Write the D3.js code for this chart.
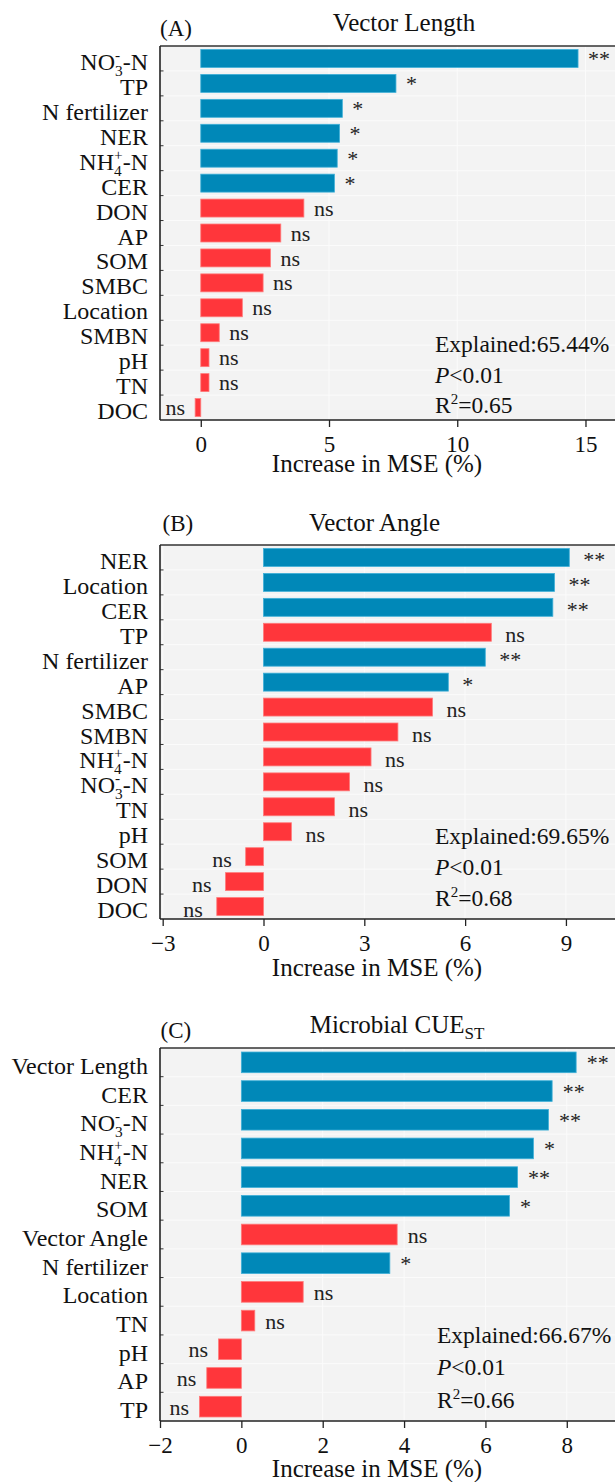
<!DOCTYPE html>
<html>
<head>
<meta charset="utf-8">
<script src="https://cdn.jsdelivr.net/npm/d3@7"></script>
<style>
  html, body { margin: 0; padding: 0; background: #fff; }
  svg { display: block; font-family: "Liberation Serif", "Times New Roman", serif; }
</style>
</head>
<body>
<svg id="fig" width="615" height="1482"></svg>
<script>
// ---- Panel A: Vector Length ----
const catsA  = ["NO3-N", "TP", "N fertilizer", "NER", "NH4-N", "CER", "DON", "AP", "SOM", "SMBC", "Location", "SMBN", "pH", "TN", "DOC"];
const valsA  = [14.71, 7.61, 5.52, 5.41, 5.32, 5.21, 4.02, 3.12, 2.72, 2.43, 1.62, 0.72, 0.32, 0.32, -0.22];
const sigA   = ["**", "*", "*", "*", "*", "*", "ns", "ns", "ns", "ns", "ns", "ns", "ns", "ns", "ns"];
const ticksA = [0, 5, 10, 15];
const statsA = ["65.44%", "0.01", "0.65"];

// ---- Panel B: Vector Angle ----
const catsB  = ["NER", "Location", "CER", "TP", "N fertilizer", "AP", "SMBC", "SMBN", "NH4-N", "NO3-N", "TN", "pH", "SOM", "DON", "DOC"];
const valsB  = [9.10, 8.66, 8.61, 6.78, 6.60, 5.50, 5.03, 4.00, 3.20, 2.56, 2.11, 0.83, -0.53, -1.13, -1.39];
const sigB   = ["**", "**", "**", "ns", "**", "*", "ns", "ns", "ns", "ns", "ns", "ns", "ns", "ns", "ns"];
const ticksB = [-3, 0, 3, 6, 9];
const statsB = ["69.65%", "0.01", "0.68"];

// ---- Panel C: Microbial CUE_ST ----
const catsC  = ["Vector Length", "CER", "NO3-N", "NH4-N", "NER", "SOM", "Vector Angle", "N fertilizer", "Location", "TN", "pH", "AP", "TP"];
const valsC  = [8.23, 7.64, 7.55, 7.18, 6.79, 6.59, 3.83, 3.65, 1.52, 0.33, -0.56, -0.85, -1.03];
const sigC   = ["**", "**", "**", "*", "**", "*", "ns", "*", "ns", "ns", "ns", "ns", "ns"];
const ticksC = [-2, 0, 2, 4, 6, 8];
const statsC = ["66.67%", "0.01", "0.66"];

const BLUE = "#0088b8", BLUE_EDGE = "#3fb0d8";
const RED = "#ff363b", RED_EDGE = "#ff7a7a";

const svg = d3.select("#fig");

// Layout of each panel (pixel geometry)
const panels = [
  { cats: catsA, vals: valsA, sig: sigA, ticks: ticksA, stats: statsA,
    domain: [-1.59, 16.19], top: 46, bottom: 420, letter: "(A)",
    title: ["Vector Length", null], titleX: 404, titleY: 31, letterX: 160, letterY: 36,
    sigGap: 10, sigDy: 7.6, statY: [352, 382.5, 413], statX: 435, axisTitleY: 472 },
  { cats: catsB, vals: valsB, sig: sigB, ticks: ticksB, stats: statsB,
    domain: [-3.08, 10.49], top: 545, bottom: 919, letter: "(B)",
    title: ["Vector Angle", null], titleX: 374.5, titleY: 531, letterX: 162.5, letterY: 530.5,
    sigGap: 14, sigDy: 10, statY: [844, 875, 906], statX: 435, axisTitleY: 976 },
  { cats: catsC, vals: valsC, sig: sigC, ticks: ticksC, stats: statsC,
    domain: [-2, 9.21], top: 1048, bottom: 1421, letter: "(C)",
    title: ["Microbial CUE", "ST"], titleX: 397, titleY: 1033, letterX: 160.5, letterY: 1038,
    sigGap: 10.5, sigDy: 8, statY: [1343, 1375, 1408], statX: 437, axisTitleY: 1477 }
];

const LEFT = 160, RIGHT = 616, LABEL_X = 148;

// Writes a category name with chemical sub/superscripts into a <text>
function writeLabel(textSel, name, size) {
  const small = size * 0.64;
  const m = name.match(/^(NO|NH)(\d)-N$/);
  if (!m) { textSel.text(name); return; }
  const ion = m[1] === "NO" ? "-" : "+";
  const subW = small * 0.5;              // digit advance
  const supW = small * (ion === "+" ? 0.564 : 0.333);
  textSel.append("tspan").text(m[1]);
  textSel.append("tspan").attr("font-size", small).attr("dy", 6).text(m[2]);
  textSel.append("tspan").attr("font-size", small).attr("dx", -subW).attr("dy", -16).text(ion);
  textSel.append("tspan").attr("dy", 10).attr("dx", Math.max(0, subW - supW)).text("-N");
}

panels.forEach(p => {
  const g = svg.append("g");
  const x = d3.scaleLinear().domain(p.domain).range([LEFT, RIGHT]);
  const y = d3.scaleBand().domain(p.cats).range([p.top, p.bottom]).paddingInner(0.28).paddingOuter(0.14);
  const step = y.step();

  // plot background
  g.append("rect").attr("x", LEFT).attr("y", p.top)
    .attr("width", RIGHT - LEFT).attr("height", p.bottom - p.top).attr("fill", "#f3f3f3");

  // faint white grid: vertical at ticks, horizontal at row boundaries
  g.append("g").selectAll("line.v").data(p.ticks.filter(t => t !== 0)).join("line")
    .attr("x1", d => x(d)).attr("x2", d => x(d))
    .attr("y1", p.top).attr("y2", p.bottom)
    .attr("stroke", "#fbfbfb").attr("stroke-width", 1);
  const bounds = d3.range(1, p.cats.length).map(i => p.top + i * step);
  g.append("g").selectAll("line.h").data(bounds).join("line")
    .attr("x1", LEFT).attr("x2", RIGHT).attr("y1", d => d).attr("y2", d => d)
    .attr("stroke", "#fbfbfb").attr("stroke-width", 1);

  // bars
  const data = p.cats.map((c, i) => ({ c, v: p.vals[i], s: p.sig[i] }));
  g.append("g").selectAll("rect").data(data).join("rect")
    .attr("x", d => x(Math.min(0, d.v)))
    .attr("width", d => Math.abs(x(d.v) - x(0)))
    .attr("y", d => y(d.c))
    .attr("height", y.bandwidth())
    .attr("fill", d => d.s === "ns" ? RED : BLUE)
    .attr("stroke", d => d.s === "ns" ? RED_EDGE : BLUE_EDGE)
    .attr("stroke-width", 0.8);

  // significance labels
  g.append("g").selectAll("text").data(data).join("text")
    .attr("x", d => d.v >= 0 ? x(d.v) + p.sigGap : x(d.v) - p.sigGap)
    .attr("y", d => y(d.c) + y.bandwidth() / 2 + p.sigDy)
    .attr("text-anchor", d => d.v >= 0 ? "start" : "end")
    .attr("font-size", 22).attr("fill", "#222")
    .text(d => d.s);

  // x axis
  const xAxis = d3.axisBottom(x).tickValues(p.ticks).tickSize(7).tickPadding(8)
    .tickFormat(d3.format("d"));
  const ax = g.append("g").attr("transform", `translate(0,${p.bottom})`).call(xAxis);
  ax.select(".domain").remove();
  ax.selectAll(".tick line").attr("stroke", "#222").attr("stroke-width", 1.3);
  ax.selectAll(".tick text").attr("font-size", 23).attr("fill", "#111")
    .attr("font-family", "Liberation Serif").attr("dy", null).attr("y", 31.5);

  // y axis ticks (inward, at row boundaries) and category names
  g.append("g").selectAll("line").data(bounds).join("line")
    .attr("x1", LEFT).attr("x2", LEFT + 3.5).attr("y1", d => d).attr("y2", d => d)
    .attr("stroke", "#333").attr("stroke-width", 1);

  g.append("g").selectAll("text").data(p.cats).join("text")
    .attr("y", d => y(d) + y.bandwidth() / 2 + 11.5)
    .attr("font-size", 24).attr("fill", "#111")
    .each(function (d) {
      const t = d3.select(this);
      writeLabel(t, d, 24);
      const w = this.getBBox().width;
      t.attr("x", LABEL_X - w);
    });

  // frame: top, left, bottom
  g.append("line").attr("x1", LEFT).attr("x2", RIGHT).attr("y1", p.top).attr("y2", p.top)
    .attr("stroke", "#333").attr("stroke-width", 1.6);
  g.append("line").attr("x1", LEFT).attr("x2", LEFT).attr("y1", p.top).attr("y2", p.bottom)
    .attr("stroke", "#222").attr("stroke-width", 1.6);
  g.append("line").attr("x1", LEFT).attr("x2", RIGHT).attr("y1", p.bottom).attr("y2", p.bottom)
    .attr("stroke", "#222").attr("stroke-width", 1.6);

  // axis title
  g.append("text").attr("x", 377).attr("y", p.axisTitleY).attr("text-anchor", "middle")
    .attr("font-size", 25).attr("fill", "#111").text("Increase in MSE (%)");

  // panel title and letter
  const tt = g.append("text").attr("x", p.titleX).attr("y", p.titleY).attr("text-anchor", "middle")
    .attr("font-size", 25).attr("fill", "#111");
  tt.append("tspan").text(p.title[0]);
  if (p.title[1]) tt.append("tspan").attr("font-size", 17).attr("dy", 6).text(p.title[1]);
  g.append("text").attr("x", p.letterX).attr("y", p.letterY)
    .attr("font-size", 23).attr("fill", "#111").text(p.letter);

  // model statistics
  const st = g.append("g").attr("font-size", 23.5).attr("fill", "#111");
  st.append("text").attr("x", p.statX).attr("y", p.statY[0]).text("Explained:" + p.stats[0]);
  const pt = st.append("text").attr("x", p.statX).attr("y", p.statY[1]);
  pt.append("tspan").attr("font-style", "italic").text("P");
  pt.append("tspan").text("<" + p.stats[1]);
  const rt = st.append("text").attr("x", p.statX).attr("y", p.statY[2]);
  rt.append("tspan").text("R");
  rt.append("tspan").attr("font-size", 15).attr("dy", -9).text("2");
  rt.append("tspan").attr("dy", 9).text("=" + p.stats[2]);
});
</script>
</body>
</html>
